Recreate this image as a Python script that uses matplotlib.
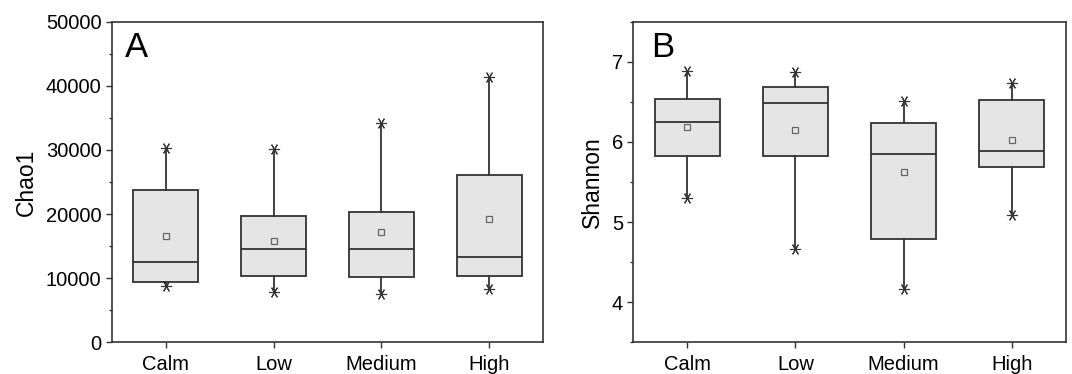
import matplotlib
matplotlib.use("Agg")
import matplotlib.pyplot as plt
from matplotlib.ticker import MultipleLocator

plt.rcParams['font.family'] = ['Liberation Sans', 'DejaVu Sans']

groups = ['Calm', 'Low', 'Medium', 'High']

# panel A: Chao1
chao_whislo = [8800, 7850, 7600, 8250]
chao_q1 = [9400, 10300, 10150, 10400]
chao_med = [12450, 14600, 14550, 13350]
chao_mean = [16600, 15750, 17150, 19150]
chao_q3 = [23750, 19650, 20250, 26100]
chao_whishi = [30350, 30100, 34150, 41450]

# panel B: Shannon
shan_whislo = [5.30, 4.66, 4.16, 5.09]
shan_q1 = [5.83, 5.82, 4.79, 5.69]
shan_med = [6.25, 6.48, 5.85, 5.89]
shan_mean = [6.19, 6.15, 5.62, 6.02]
shan_q3 = [6.53, 6.68, 6.24, 6.52]
shan_whishi = [6.88, 6.87, 6.51, 6.73]

edge = '#333333'


def draw(ax, lo, q1, med, mean, q3, hi):
    stats = []
    for i in range(len(groups)):
        stats.append(dict(whislo=lo[i], q1=q1[i], med=med[i], mean=mean[i],
                          q3=q3[i], whishi=hi[i], fliers=[], label=groups[i]))
    pos = list(range(1, len(groups) + 1))
    ax.bxp(stats, positions=pos, widths=0.6, showcaps=False, showmeans=True,
           showfliers=False, patch_artist=True,
           boxprops=dict(facecolor='#e5e5e5', edgecolor=edge, linewidth=1.3),
           medianprops=dict(color=edge, linewidth=1.3),
           whiskerprops=dict(color=edge, linewidth=1.3),
           meanprops=dict(marker='s', markerfacecolor='none',
                          markeredgecolor='#666666', markersize=5,
                          markeredgewidth=0.9))
    ax.plot(pos, lo, ls='none', marker=(6, 2, 90), ms=8, mec=edge, mew=0.8)
    ax.plot(pos, hi, ls='none', marker=(6, 2, 90), ms=8, mec=edge, mew=0.8)
    ax.set_xlim(0.5, 4.5)
    ax.tick_params(axis='both', direction='out', labelsize=14.5, color=edge,
                   length=4.3, width=1, pad=3)
    ax.tick_params(axis='x', pad=5)
    ax.tick_params(axis='y', which='minor', direction='out', length=2.4,
                   width=1, color=edge)
    for s in ax.spines.values():
        s.set_color(edge)
        s.set_linewidth(1.2)


fig = plt.figure(figsize=(10.72, 3.74), dpi=100)
ax1 = fig.add_axes([0.1042, 0.0848, 0.4026, 0.8572])
ax2 = fig.add_axes([0.5908, 0.0848, 0.4033, 0.8572])

draw(ax1, chao_whislo, chao_q1, chao_med, chao_mean, chao_q3, chao_whishi)
ax1.set_ylim(0, 50000)
ax1.yaxis.set_major_locator(MultipleLocator(10000))
ax1.yaxis.set_minor_locator(MultipleLocator(5000))
ax1.set_ylabel('Chao1', fontsize=16.5, labelpad=6)
ax1.text(0.03, 0.97, 'A', transform=ax1.transAxes, fontsize=25,
         va='top', ha='left')

draw(ax2, shan_whislo, shan_q1, shan_med, shan_mean, shan_q3, shan_whishi)
ax2.set_ylim(3.5, 7.5)
ax2.yaxis.set_major_locator(MultipleLocator(1))
ax2.yaxis.set_minor_locator(MultipleLocator(0.5))
ax2.set_ylabel('Shannon', fontsize=16.5, labelpad=6)
ax2.text(0.04, 0.97, 'B', transform=ax2.transAxes, fontsize=25,
         va='top', ha='left')

fig.savefig('out.png', dpi=100)
